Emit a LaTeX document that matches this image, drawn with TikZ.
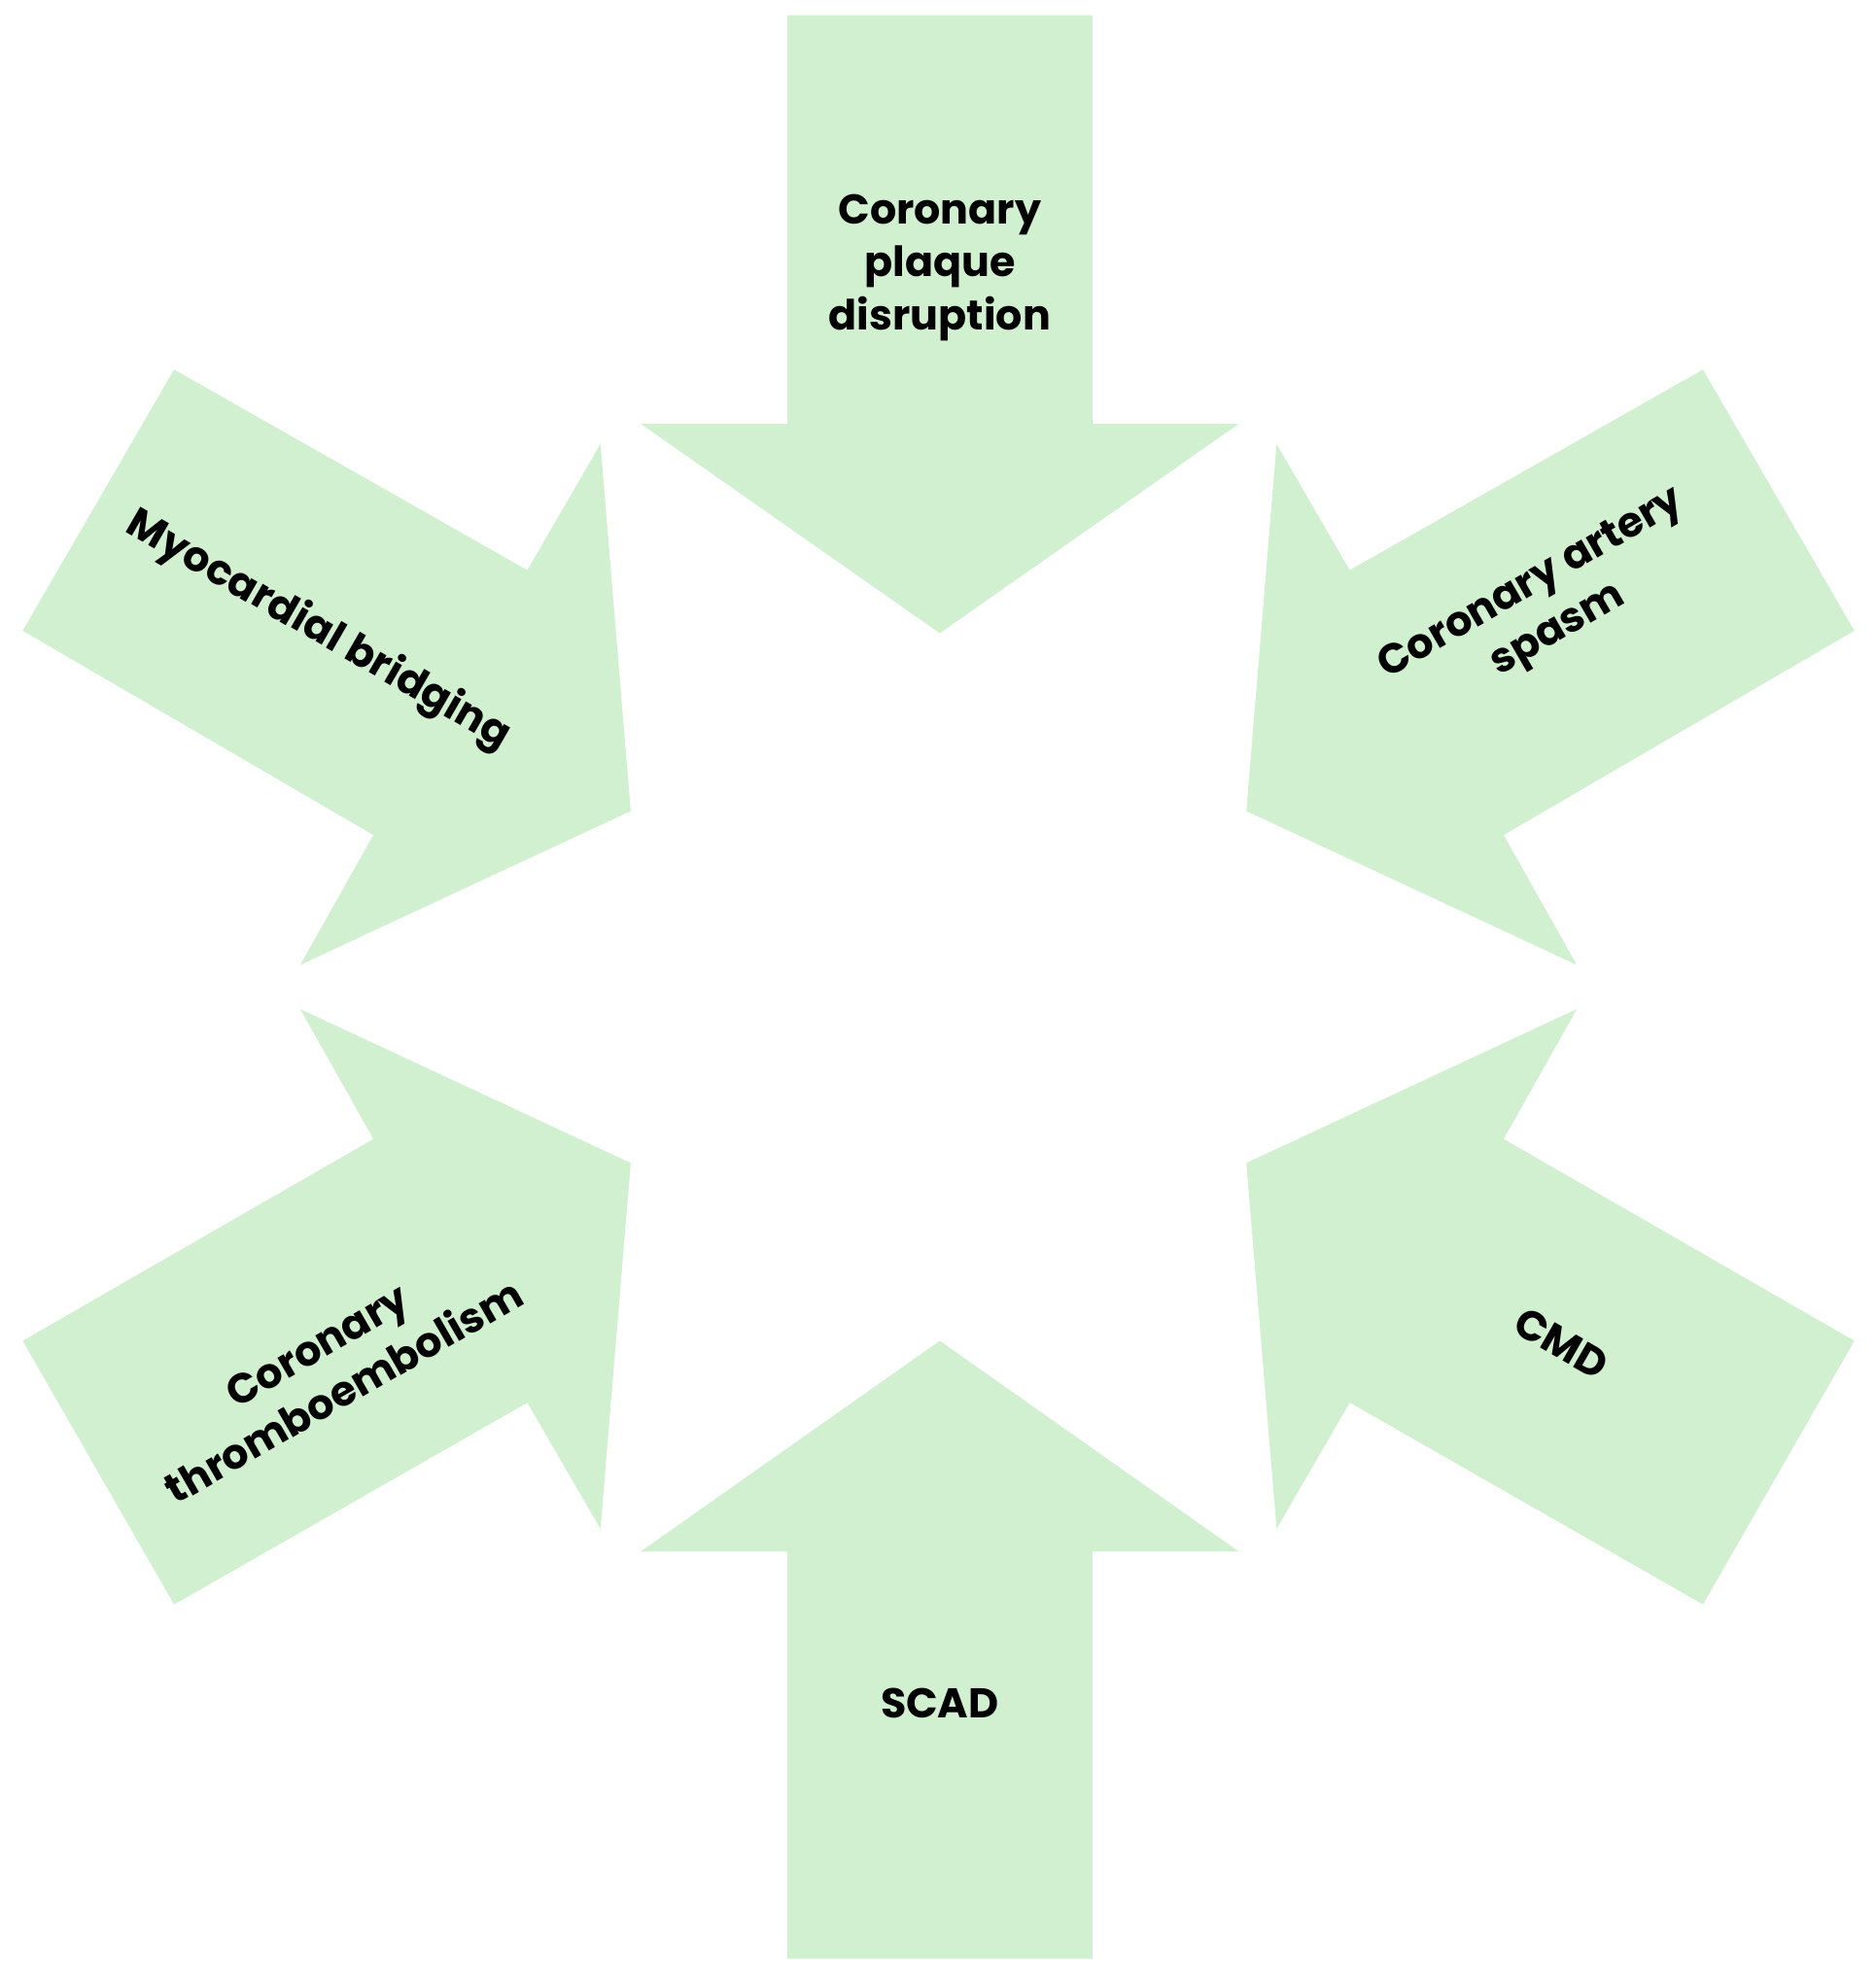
\documentclass[tikz,border=0pt]{standalone}
\usepackage{fontspec}
\setmainfont{Poppins}
\begin{document}
\begin{tikzpicture}[x=1pt,y=-1pt,
  arr/.style={fill=green1,draw=none},
  lab/.style={font=\fontsize{33}{42}\selectfont\bfseries,align=center,text=black}]
\definecolor{green1}{HTML}{D0F0D0}
\useasboundingbox (0,0) rectangle (1487,1565);
\fill[arr] (624,12)--(866,12)--(866,336)--(982,336)--(745,502)--(508,336)--(624,336)--cycle;
\fill[arr] (624,1553)--(866,1553)--(866,1230)--(982,1230)--(745,1063)--(508,1230)--(624,1230)--cycle;
\fill[arr] (138,293)--(418,452)--(476,352)--(500,643)--(238,765)--(296,662)--(18,500)--cycle;
\fill[arr] (238,800)--(296,903)--(18,1063)--(138,1272)--(418,1112)--(476,1212)--(500,922)--cycle;
\fill[arr] (1350,293)--(1070,452)--(1012,352)--(988,643)--(1250,765)--(1192,662)--(1470,500)--cycle;
\fill[arr] (1250,800)--(1192,903)--(1470,1063)--(1350,1272)--(1070,1112)--(1012,1212)--(988,922)--cycle;
\node[lab] (t) at (745,212) {Coronary\\plaque\\disruption};
\node[lab,rotate=-30] (ul) at (252,500) {Myocardial bridging};
\node[lab,rotate=30] (ur) at (1225,482) {Coronary artery\\spasm};
\node[lab,rotate=30] (ll) at (262,1085) {Coronary\\thromboembolism};
\node[lab,rotate=-30] (lr) at (1238,1065) {CMD};
\node[lab] (b) at (745,1350) {SCAD};
\end{tikzpicture}
\end{document}
